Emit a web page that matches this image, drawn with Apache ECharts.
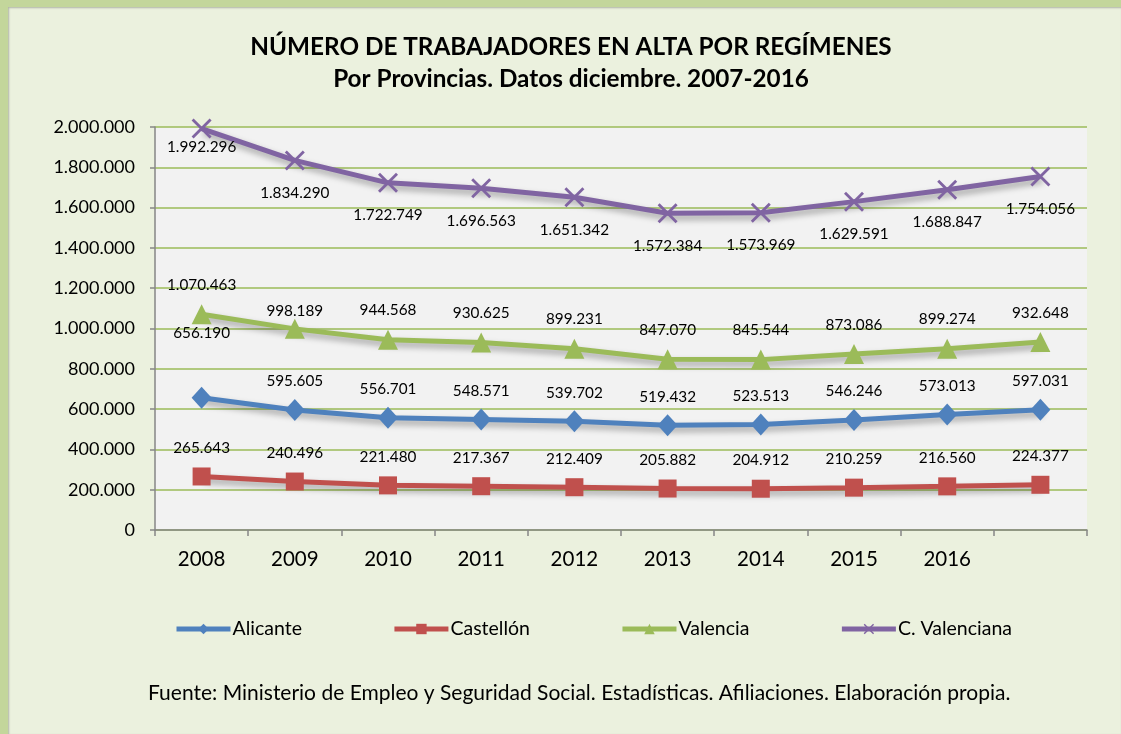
<!DOCTYPE html>
<html>
<head>
<meta charset="utf-8">
<script src="https://cdn.jsdelivr.net/npm/echarts@6/dist/echarts.min.js"></script>
<style>
  html, body { margin: 0; padding: 0; background: #c3d69b; }
  #frame { position: absolute; left: 8px; top: 7px; width: 1113px; height: 727px; background: #ebf1de; box-shadow: inset 1px 1px 2px rgba(0,0,0,0.25); }
  #main { position: absolute; left: 0; top: 0; width: 1121px; height: 734px; }
</style>
</head>
<body>
<div id="frame"></div>
<div id="main"></div>
<script>
// datos (diciembre de cada año)
var years = ['2008', '2009', '2010', '2011', '2012', '2013', '2014', '2015', '2016', ''];
var alicante = [656190, 595605, 556701, 548571, 539702, 519432, 523513, 546246, 573013, 597031];
var castellon = [265643, 240496, 221480, 217367, 212409, 205882, 204912, 210259, 216560, 224377];
var valencia = [1070463, 998189, 944568, 930625, 899231, 847070, 845544, 873086, 899274, 932648];
var cValenciana = [1992296, 1834290, 1722749, 1696563, 1651342, 1572384, 1573969, 1629591, 1688847, 1754056];

var FONT = 'Lato';

function fmt(n) {
    return String(n).replace(/\B(?=(\d{3})+(?!\d))/g, '.');
}

// etiquetas que Excel coloca algo distinto
function withLabels(values, special) {
    return values.map(function (v, i) {
        if (special[i] !== undefined) {
            return { value: v, label: { distance: special[i] } };
        }
        return v;
    });
}

var shadow = { shadowColor: 'rgba(0,0,0,0.35)', shadowBlur: 6, shadowOffsetX: 2, shadowOffsetY: 4 };

function serie(name, data, color, symbol, size, pos, dist) {
    return {
        name: name,
        type: 'line',
        data: data,
        symbol: symbol,
        symbolSize: size,
        itemStyle: { color: color },
        lineStyle: Object.assign({ width: 5, color: color }, shadow),
        label: {
            show: true,
            position: pos,
            distance: dist,
            color: '#000',
            fontFamily: FONT,
            fontSize: 15.3,
            formatter: function (p) { return fmt(p.value); }
        },
        emphasis: { disabled: true },
        animation: false
    };
}

var cross = 'path://M0,1L1,0L5,4L9,0L10,1L6,5L10,9L9,10L5,6L1,10L0,9L4,5Z';

var myChart = echarts.init(document.getElementById('main'));
var option = {
    backgroundColor: 'transparent',
    title: {
        text: 'NÚMERO DE TRABAJADORES EN ALTA POR REGÍMENES\nPor Provincias. Datos diciembre. 2007-2016',
        left: 566,
        top: 26,
        textAlign: 'center',
        textStyle: { fontFamily: FONT, fontSize: 24.3, fontWeight: 'bold', color: '#000', lineHeight: 32, align: 'center' }
    },
    legend: {
        left: 169,
        top: 614,
        itemGap: 90,
        itemWidth: 54,
        itemHeight: 13,
        lineStyle: { width: 5 },
        textStyle: { fontFamily: FONT, fontSize: 19.5, color: '#000', padding: [0, 0, 0, -3] },
        data: ['Alicante', 'Castellón', 'Valencia', 'C. Valenciana']
    },
    grid: {
        left: 155,
        right: 34,
        top: 127,
        bottom: 204,
        show: true,
        backgroundColor: '#f2f2f2',
        borderWidth: 0
    },
    xAxis: {
        type: 'category',
        data: years,
        boundaryGap: true,
        axisLine: { lineStyle: { color: '#868686', width: 1.5 } },
        axisTick: { show: true, length: 6, lineStyle: { color: '#868686', width: 1.5 } },
        axisLabel: { margin: 19, fontFamily: FONT, fontSize: 20.5, color: '#000' }
    },
    yAxis: {
        type: 'value',
        min: 0,
        max: 2000000,
        interval: 200000,
        axisLine: { show: true, lineStyle: { color: '#868686', width: 1.5 } },
        axisTick: { show: true, length: 5, lineStyle: { color: '#868686', width: 1.5 } },
        splitLine: { lineStyle: { color: '#9bbb59', width: 1.5 } },
        axisLabel: { margin: 20, fontFamily: FONT, fontSize: 18, color: '#000', formatter: fmt }
    },
    graphic: [{
        type: 'text',
        left: 148,
        top: 683,
        style: {
            text: 'Fuente: Ministerio de Empleo y Seguridad Social. Estadísticas. Afiliaciones. Elaboración propia.',
            fontFamily: FONT,
            fontSize: 21,
            fill: '#000'
        }
    }],
    series: [
        serie('Alicante', withLabels(alicante, { 0: 46 }), '#4f81bd', 'diamond', [20, 22], 'top', 10),
        serie('Castellón', castellon, '#c0504d', 'rect', 18, 'top', 12),
        serie('Valencia', withLabels(valencia, { 1: 0 }), '#9bbb59', 'triangle', 20, 'top', 12),
        serie('C. Valenciana', withLabels(cValenciana, { 0: 1 }), '#8064a2', cross, 20, 'bottom', 15)
    ]
};
myChart.setOption(option);
window.onresize = myChart.resize;
</script>
</body>
</html>
